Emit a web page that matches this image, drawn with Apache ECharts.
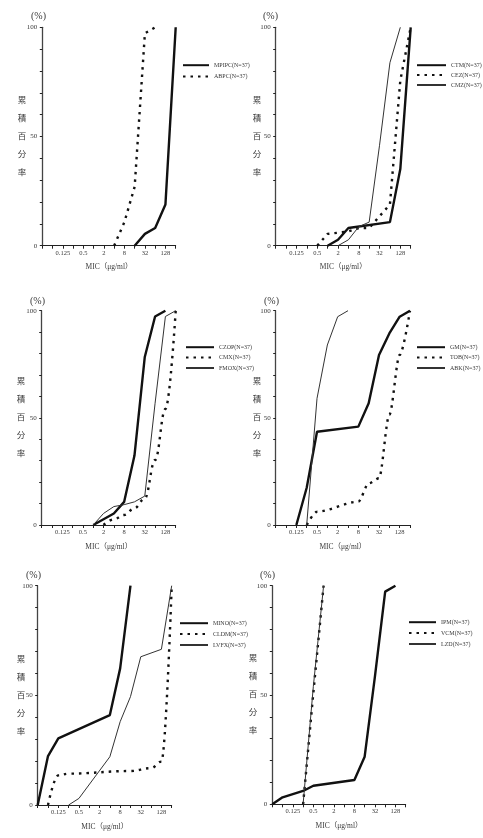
<!DOCTYPE html>
<html><head><meta charset="utf-8">
<script src="https://cdn.jsdelivr.net/npm/echarts@6/dist/echarts.min.js"></script>
<style>html,body{margin:0;padding:0;background:#fff}#c{width:483px;height:838px}</style>
</head><body><div id="c"></div><script>
// ---- data ----
const MIC_MIN = 0.03125, MIC_MAX = 256;
const xTickLabels = ['0.125', '0.5', '2', '8', '32', '128'];
const yTickLabels = ['0', '50', '100'];
const yAxisTitle = '累\n積\n百\n分\n率';
const xAxisTitle = 'MIC（μg/ml）';
const unitLabel = '(%)';

// panel 1
const MPIPC_mic = [16, 32, 64, 128, 256];
const MPIPC_pct = [0, 5.4, 8.1, 18.9, 100];
const ABPC_mic = [4, 8, 16, 32, 64];
const ABPC_pct = [0, 10.8, 27, 97.3, 100];
// panel 2
const CTM_mic = [1, 2, 4, 64, 128, 256];
const CTM_pct = [0, 2.7, 8.1, 10.8, 35.1, 100];
const CEZ_mic = [0.5, 1, 4, 8, 16, 32, 64, 128, 256];
const CEZ_pct = [0, 5.4, 6.5, 8.1, 8.1, 13.5, 18.9, 75.7, 100];
const CMZ_mic = [2, 4, 8, 16, 32, 64, 128];
const CMZ_pct = [0, 2.7, 8.7, 10.8, 46, 83.8, 100];
// panel 3
const CZOP_mic = [1, 2, 4, 8, 16, 32, 64, 128];
const CZOP_pct = [0, 2.7, 5.4, 10.8, 32.4, 78.4, 97.3, 100];
const CMX_mic = [2, 4, 8, 16, 32, 64, 128, 256];
const CMX_pct = [0, 2.7, 4.7, 7.8, 12.4, 30.3, 54.1, 100];
const FMOX_mic = [1, 2, 4, 8, 16, 32, 64, 128, 256];
const FMOX_pct = [0, 5.4, 8.6, 9.5, 10.8, 13.5, 56.8, 97.3, 100];
// panel 4
const GM_mic = [0.125, 0.25, 0.5, 8, 16, 32, 64, 128, 256];
const GM_pct = [0, 17.4, 43.5, 45.9, 56.8, 79.3, 89.4, 97.2, 100];
const TOB_mic = [0.25, 0.5, 8, 16, 32, 64, 128, 256];
const TOB_pct = [0, 6.2, 10.9, 19.4, 21.8, 51.4, 79.3, 100];
const ABK_mic = [0.25, 0.5, 1, 2, 4];
const ABK_pct = [0, 59.1, 84, 97.2, 100];
// panel 5
const MINO_mic = [0.03125, 0.0625, 0.125, 4, 8, 16];
const MINO_pct = [0, 22.3, 30.4, 41, 62.3, 100];
const CLDM_mic = [0.0625, 0.125, 0.25, 16, 64, 128, 256];
const CLDM_pct = [0, 13.5, 14.3, 15.5, 16.8, 19.8, 100];
const LVFX_mic = [0.25, 0.5, 4, 8, 16, 32, 128, 256];
const LVFX_pct = [0, 3, 22, 38, 49.4, 67.6, 71, 100];
// panel 6
const IPM_mic = [0.03125, 0.0625, 0.25, 0.5, 8, 16, 32, 64, 128];
const IPM_pct = [0, 3.2, 6.1, 8.5, 11.1, 21.8, 58.4, 97.3, 100];
const VCM_mic = [0.25, 0.5, 1];
const VCM_pct = [0, 51, 100];
const LZD_mic = [0.25, 0.5, 1];
const LZD_pct = [0, 54, 100];

// ---- layout / styles ----
const FONT = '"Liberation Serif", "Noto Sans CJK JP", serif';
const TXT = '#3a3a3a';
const panels = [
  {grid: {left: 42.3, top: 27.3, width: 133.4, height: 218.4}, lg: {left: 182, top: 62, w: 26, gap: 5}, pc: [40, 16], ng: 16},
  {grid: {left: 275.7, top: 27.3, width: 135, height: 218.4}, lg: {left: 416, top: 62, w: 29, gap: 3.5}, pc: [272, 16], ng: 14.5},
  {grid: {left: 41.7, top: 310.7, width: 134, height: 214.3}, lg: {left: 185, top: 344, w: 28, gap: 4}, pc: [39, 301], ng: 16.5},
  {grid: {left: 275.7, top: 310.7, width: 134.3, height: 214.3}, lg: {left: 416, top: 344, w: 28, gap: 4}, pc: [273, 301], ng: 14.5},
  {grid: {left: 37.7, top: 585.7, width: 134, height: 219.3}, lg: {left: 179, top: 620, w: 28, gap: 4.5}, pc: [35, 575], ng: 12.5},
  {grid: {left: 272.3, top: 585.7, width: 133.4, height: 218.6}, lg: {left: 408, top: 619, w: 27, gap: 4.5}, pc: [269, 575], ng: 15}
];
const styles = {
  thick: {color: '#111', width: 2.4, type: 'solid'},
  dot: {color: '#111', width: 2.4, type: [2.5, 5]},
  thin: {color: '#333', width: 1, type: 'solid'}
};
const seriesDefs = [
  {name: 'MPIPC(N=37)', mic: MPIPC_mic, pct: MPIPC_pct, kind: 'thick', p: 0},
  {name: 'ABPC(N=37)', mic: ABPC_mic, pct: ABPC_pct, kind: 'dot', p: 0},
  {name: 'CTM(N=37)', mic: CTM_mic, pct: CTM_pct, kind: 'thick', p: 1},
  {name: 'CEZ(N=37)', mic: CEZ_mic, pct: CEZ_pct, kind: 'dot', p: 1},
  {name: 'CMZ(N=37)', mic: CMZ_mic, pct: CMZ_pct, kind: 'thin', p: 1},
  {name: 'CZOP(N=37)', mic: CZOP_mic, pct: CZOP_pct, kind: 'thick', p: 2},
  {name: 'CMX(N=37)', mic: CMX_mic, pct: CMX_pct, kind: 'dot', p: 2, smooth: 0.4},
  {name: 'FMOX(N=37)', mic: FMOX_mic, pct: FMOX_pct, kind: 'thin', p: 2},
  {name: 'GM(N=37)', mic: GM_mic, pct: GM_pct, kind: 'thick', p: 3},
  {name: 'TOB(N=37)', mic: TOB_mic, pct: TOB_pct, kind: 'dot', p: 3, smooth: 0.3},
  {name: 'ABK(N=37)', mic: ABK_mic, pct: ABK_pct, kind: 'thin', p: 3},
  {name: 'MINO(N=37)', mic: MINO_mic, pct: MINO_pct, kind: 'thick', p: 4},
  {name: 'CLDM(N=37)', mic: CLDM_mic, pct: CLDM_pct, kind: 'dot', p: 4, smooth: 0.4},
  {name: 'LVFX(N=37)', mic: LVFX_mic, pct: LVFX_pct, kind: 'thin', p: 4},
  {name: 'IPM(N=37)', mic: IPM_mic, pct: IPM_pct, kind: 'thick', p: 5},
  {name: 'VCM(N=37)', mic: VCM_mic, pct: VCM_pct, kind: 'dot', p: 5},
  {name: 'LZD(N=37)', mic: LZD_mic, pct: LZD_pct, kind: 'thin', p: 5}
];

function fmt(v) { return String(+(+v).toPrecision(6)); }
const axisLineStyle = {color: '#222', width: 1};
const LOG2_MIN = Math.log2(MIC_MIN), LOG2_MAX = Math.log2(MIC_MAX);

const option = {
  animation: false,
  backgroundColor: '#fff',
  title: panels.map(p => ({
    text: unitLabel, left: p.pc[0] - 9, top: p.pc[1] - 4.5, padding: 0,
    textStyle: {fontSize: 10, fontWeight: 'normal', color: TXT, fontFamily: FONT}
  })),
  grid: panels.map(p => Object.assign({containLabel: false}, p.grid)),
  // x axis is a base-2 logarithmic MIC scale: positions are log2(MIC)
  xAxis: panels.map((p, i) => ({
    gridIndex: i, type: 'value', min: LOG2_MIN, max: LOG2_MAX, interval: 1,
    axisLine: {show: true, onZero: false, lineStyle: axisLineStyle},
    axisTick: {show: true, length: 3, lineStyle: axisLineStyle},
    splitLine: {show: false},
    axisLabel: {
      fontSize: 6.5, color: TXT, fontFamily: FONT, margin: 4, showMinLabel: true, showMaxLabel: true,
      formatter: v => { const s = fmt(Math.pow(2, v)); return xTickLabels.includes(s) ? s : ''; }
    },
    name: xAxisTitle, nameLocation: 'middle', nameGap: 18, nameMoveOverlap: false,
    nameTextStyle: {fontSize: 7.5, color: TXT, fontFamily: FONT}
  })),
  yAxis: panels.map((p, i) => ({
    gridIndex: i, type: 'value', min: 0, max: 100, interval: 10,
    axisLine: {show: true, onZero: false, lineStyle: {color: '#444', width: 1.3}},
    axisTick: {show: true, length: 2.5, lineStyle: axisLineStyle},
    splitLine: {show: false},
    axisLabel: {
      fontSize: 7, color: TXT, fontFamily: FONT, margin: 5,
      formatter: v => { const s = fmt(v); return yTickLabels.includes(s) ? s : ''; }
    },
    name: yAxisTitle, nameLocation: 'middle', nameRotate: 0, nameGap: p.ng, nameMoveOverlap: false,
    nameTextStyle: {fontSize: 8.5, lineHeight: 18, color: TXT, fontFamily: FONT}
  })),
  legend: panels.map((p, i) => ({
    data: seriesDefs.filter(s => s.p === i).map(s => s.name),
    orient: 'vertical', left: p.lg.left, top: p.lg.top, padding: 0,
    itemWidth: p.lg.w, itemHeight: 8, itemGap: p.lg.gap,
    selectedMode: false,
    itemStyle: {opacity: 0},
    textStyle: {fontSize: 6, color: TXT, fontFamily: FONT}
  })),
  series: seriesDefs.map(s => ({
    type: 'line', name: s.name, xAxisIndex: s.p, yAxisIndex: s.p,
    data: s.mic.map((m, j) => [Math.log2(m), s.pct[j]]),
    symbol: 'none', showSymbol: false,
    smooth: s.smooth || false, smoothMonotone: 'x',
    lineStyle: styles[s.kind], itemStyle: {color: styles[s.kind].color},
    clip: false
  }))
};

const chart = echarts.init(document.getElementById('c'), null, {renderer: 'canvas'});
chart.setOption(option);
</script></body></html>
